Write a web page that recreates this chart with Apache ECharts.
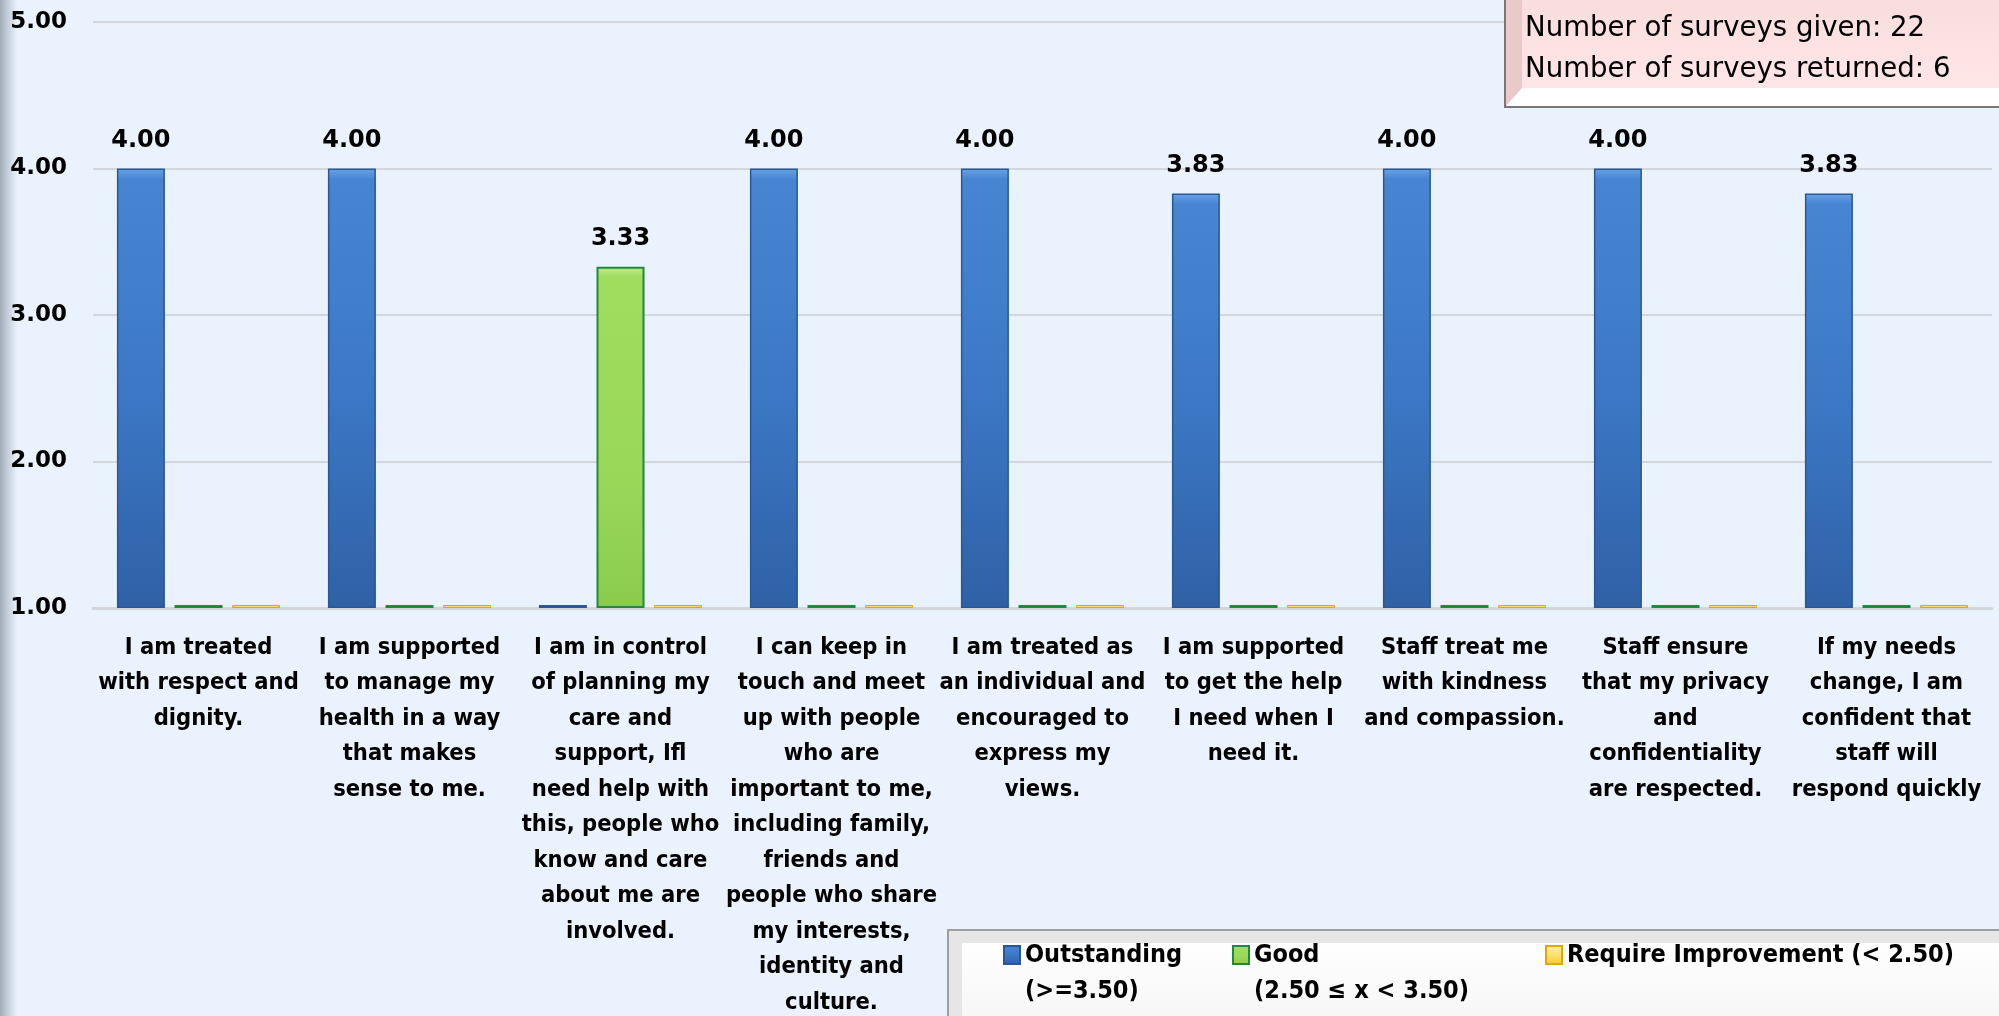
<!DOCTYPE html>
<html>
<head>
<meta charset="utf-8">
<script src="https://cdn.jsdelivr.net/npm/echarts@6/dist/echarts.min.js"></script>
<style>
  html, body { margin: 0; padding: 0; background: #EAF3FD; }
  #chart { width: 1999px; height: 1016px; }
</style>
</head>
<body>
<div id="chart"></div>
<script>
// Survey statements (x-axis categories), one line of the wrapped label per "\n"
const categories = [
  'I am treated\nwith respect and\ndignity.',
  'I am supported\nto manage my\nhealth in a way\nthat makes\nsense to me.',
  'I am in control\nof planning my\ncare and\nsupport, Ifl\nneed help with\nthis, people who\nknow and care\nabout me are\ninvolved.',
  'I can keep in\ntouch and meet\nup with people\nwho are\nimportant to me,\nincluding family,\nfriends and\npeople who share\nmy interests,\nidentity and\nculture.',
  'I am treated as\nan individual and\nencouraged to\nexpress my\nviews.',
  'I am supported\nto get the help\nI need when I\nneed it.',
  'Staff treat me\nwith kindness\nand compassion.',
  'Staff ensure\nthat my privacy\nand\nconfidentiality\nare respected.',
  'If my needs\nchange, I am\nconfident that\nstaff will\nrespond quickly'
];

const seriesNames = ['Outstanding', 'Good', 'Require Improvement'];
const legendTexts = ['Outstanding\n(>=3.50)', 'Good\n(2.50 \u2264 x < 3.50)', 'Require Improvement (< 2.50)'];

// Average score per statement, in the band it falls into (0 = not in that band)
const outstanding        = [4.00, 4.00, 0,    4.00, 4.00, 3.83, 4.00, 4.00, 3.83];
const good               = [0,    0,    3.33, 0,    0,    0,    0,    0,    0];
const requireImprovement = [0,    0,    0,    0,    0,    0,    0,    0,    0];

// Value axis ticks
const yTicks = [1, 2, 3, 4, 5];

const surveyInfo = ['Number of surveys given: 22', 'Number of surveys returned: 6'];

const Y_MIN = yTicks[0];
const Y_MAX = yTicks[yTicks.length - 1];
const Y_STEP = yTicks[1] - yTicks[0];

const LABEL_FONT = "'DejaVu Sans Condensed', 'DejaVu Sans', sans-serif";
const NUM_FONT = "'DejaVu Sans', sans-serif";

const grad = (stops) => new echarts.graphic.LinearGradient(0, 0, 0, 1,
  stops.map(c => ({ offset: c[0], color: c[1] })));

const styles = [
  { color: grad([[0, '#6AA3E6'], [0.025, '#4785D3'], [0.5, '#3C78C6'], [1, '#2F61A6']]), borderColor: '#2B5892', borderWidth: 1.5 },
  { color: grad([[0, '#C3EE8E'], [0.03, '#A0DC5E'], [0.6, '#9AD85A'], [1, '#8ACB4E']]), borderColor: '#1F8A3C', borderWidth: 2 },
  { color: grad([[0, '#FFF0A8'], [0.5, '#FFE070'], [1, '#F5C830']]), borderColor: '#E0A800', borderWidth: 1 }
];

function barData(values) {
  // Scores below the axis floor sit on the floor line
  return values.map(v => ({ value: Math.max(v, Y_MIN), label: { show: v > Y_MIN } }));
}

const series = [outstanding, good, requireImprovement].map((vals, i) => ({
  name: seriesNames[i],
  type: 'bar',
  data: barData(vals),
  barWidth: 48,
  barGap: '20%',
  barMinHeight: 3,
  clip: false,
  itemStyle: styles[i],
  label: {
    position: 'top',
    distance: 16,
    formatter: p => p.value.toFixed(2),
    fontFamily: NUM_FONT,
    fontWeight: 'bold',
    fontSize: 24,
    color: '#000'
  }
}));

// Two-line legend entries get a leading blank line so the icon sits beside the first line
const legendLeft = [1003, 1232, 1545];
const legends = seriesNames.map((name, i) => {
  const twoLine = legendTexts[i].indexOf('\n') >= 0;
  return {
    data: [name],
    left: legendLeft[i],
    top: twoLine ? 901 : 937,
    padding: 0,
    icon: 'rect',
    itemWidth: 16,
    itemHeight: 18,
    formatter: n => (twoLine ? '\n' : '') + legendTexts[seriesNames.indexOf(n)],
    selectedMode: false,
    textStyle: {
      fontFamily: LABEL_FONT,
      fontWeight: 'bold',
      fontSize: 25,
      lineHeight: 36,
      color: '#000'
    }
  };
});

const chart = echarts.init(document.getElementById('chart'), null, { renderer: 'canvas' });

chart.setOption({
  backgroundColor: '#EAF3FD',
  animation: false,
  grid: { left: 93, right: 7, top: 22, bottom: 408, containLabel: false, outerBoundsMode: 'none' },
  xAxis: {
    type: 'category',
    data: categories,
    axisLine: { lineStyle: { color: '#D3D7DC', width: 3 } },
    axisTick: { show: false },
    axisLabel: {
      interval: 0,
      margin: 22,
      fontFamily: LABEL_FONT,
      fontWeight: 'bold',
      fontSize: 23.5,
      lineHeight: 35.5,
      color: '#000'
    }
  },
  yAxis: {
    type: 'value',
    min: Y_MIN,
    max: Y_MAX,
    interval: Y_STEP,
    startValue: Y_MIN,
    axisLine: { show: false },
    axisTick: { show: false },
    axisLabel: {
      formatter: v => v.toFixed(2),
      margin: 26,
      fontFamily: NUM_FONT,
      fontWeight: 'bold',
      fontSize: 23,
      color: '#000'
    },
    splitLine: { lineStyle: { color: '#D3D7DC', width: 2 } }
  },
  legend: legends,
  series: series,
  graphic: [
    // bevelled left edge of the chart area
    {
      type: 'rect', z: -1, silent: true,
      shape: { x: 0, y: 0, width: 17, height: 1016 },
      style: { fill: new echarts.graphic.LinearGradient(0, 0, 1, 0, [
        { offset: 0, color: '#A3ADBA' }, { offset: 0.45, color: '#C4CEDA' }, { offset: 1, color: '#E8F1FB' }]) }
    },
    // legend frame
    {
      type: 'rect', z: 0, silent: true,
      shape: { x: 948, y: 930, width: 1060, height: 100 },
      style: { fill: '#D9D9D9', stroke: '#9E9E9E', lineWidth: 2 }
    },
    {
      type: 'polygon', z: 0, silent: true,
      shape: { points: [[949, 931], [2000, 931], [2000, 943], [962, 943], [962, 1016], [949, 1016]] },
      style: { fill: '#E6E6E6' }
    },
    {
      type: 'rect', z: 0, silent: true,
      shape: { x: 962, y: 943, width: 1040, height: 80 },
      style: { fill: new echarts.graphic.LinearGradient(0, 0, 0, 1, [
        { offset: 0, color: '#FFFFFF' }, { offset: 1, color: '#F6F6F6' }]) }
    },
    // survey count box
    {
      type: 'rect', z: 5, silent: true,
      shape: { x: 1505, y: -10, width: 500, height: 117 },
      style: { fill: '#E9C9C9', stroke: '#7E7676', lineWidth: 2 }
    },
    {
      type: 'polygon', z: 5, silent: true,
      shape: { points: [[1506, 106], [1522, 88], [1999, 88], [1999, 106]] },
      style: { fill: '#FFFFFF' }
    },
    {
      type: 'rect', z: 5, silent: true,
      shape: { x: 1522, y: -10, width: 478, height: 98 },
      style: { fill: new echarts.graphic.LinearGradient(0, 0, 0, 1, [
        { offset: 0, color: '#F8DCDC' }, { offset: 1, color: '#FFE6E6' }]) }
    },
    {
      type: 'text', z: 6, silent: true,
      style: {
        text: surveyInfo.join('\n'),
        x: 1525, y: 8,
        font: "27.6px 'DejaVu Sans', sans-serif",
        lineHeight: 41,
        fill: '#000'
      }
    }
  ]
});
</script>
</body>
</html>
